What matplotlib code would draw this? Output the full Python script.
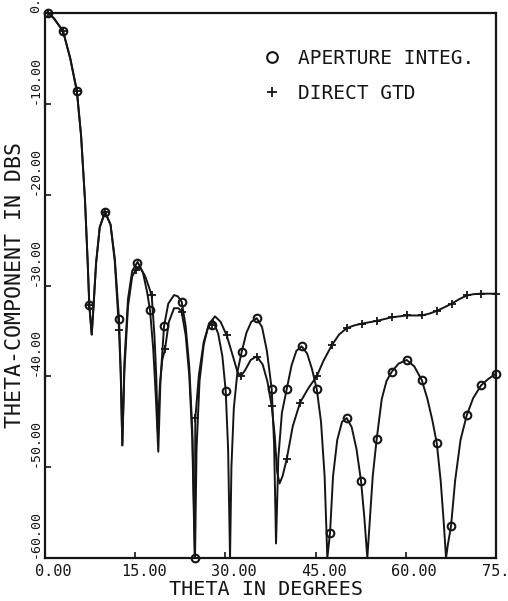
import matplotlib
matplotlib.use("Agg")
import matplotlib.pyplot as plt
from matplotlib.transforms import ScaledTranslation

# aperture integration curve (theta deg, dB)
theta_ap = [0.0, 0.55, 1.5, 3.0, 4.2, 5.3, 6.0, 6.65, 7.1, 7.37, 7.77, 8.03, 8.5, 9.1, 9.98,
            10.9, 11.6, 12.31, 12.6, 12.86, 13.2, 13.8, 14.5, 15.4, 16.3, 17.0, 17.46, 18.0,
            18.45, 18.84, 19.2, 19.79, 20.5, 21.46, 22.1, 22.73, 23.4, 24.0, 24.5, 24.95,
            25.2, 25.7, 26.4, 27.1, 27.9, 28.8, 29.5, 30.05, 30.45, 30.77, 31.0, 31.4, 32.0,
            32.71, 33.5, 34.3, 35.21, 36.1, 36.9, 37.7, 38.1, 38.42, 38.8, 39.4, 40.2, 41.0,
            41.8, 42.69, 43.6, 44.4, 45.19, 45.9, 46.5, 46.95, 47.4, 47.9, 48.6, 49.4, 50.18,
            51.0, 51.8, 52.55, 53.1, 53.6, 54.0, 54.5, 55.16, 56.0, 56.8, 57.66, 58.8, 60.15,
            61.4, 62.65, 63.6, 64.4, 65.14, 65.8, 66.3, 66.69, 67.0, 67.52, 68.2, 69.1, 70.13,
            71.2, 72.51, 73.7, 75.0]
db_ap = [0.0, 0.0, -0.6, -2.0, -5.0, -8.6, -13.5, -20.6, -27.5, -32.2, -35.4, -32.7, -27.5, -23.6, -21.9,
         -23.3, -27.0, -33.7, -39.5, -47.6, -38.5, -31.5, -28.4, -27.4, -28.6, -30.8, -32.7, -37.0,
         -42.5, -48.3, -40.5, -34.5, -32.0, -31.05, -31.2, -31.8, -34.5, -39.0, -46.0, -60.0,
         -48.0, -40.5, -36.5, -34.6, -33.8, -35.3, -37.8, -41.6, -48.0, -60.0, -50.0, -43.5, -39.5,
         -37.3, -35.2, -34.0, -33.6, -34.6, -37.2, -41.4, -47.5, -58.4, -49.0, -44.0, -41.4, -38.8,
         -37.2, -36.7, -37.5, -39.2, -41.4, -45.0, -51.0, -60.0, -57.2, -51.0, -47.0, -45.0, -44.6,
         -45.6, -48.0, -51.5, -55.5, -60.0, -56.0, -51.0, -46.9, -42.5, -40.5, -39.5, -38.6, -38.2,
         -38.9, -40.4, -42.5, -44.8, -47.3, -51.5, -56.0, -60.0, -58.5, -56.5, -51.5, -47.0, -44.3,
         -42.4, -41.0, -40.3, -39.7]

# direct GTD curve
theta_gtd = [0.0, 0.55, 1.5, 3.0, 4.2, 5.3, 6.0, 6.65, 7.1, 7.37, 7.77, 8.03, 8.5, 9.1, 9.98,
             10.9, 11.6, 12.31, 12.6, 12.86, 13.2, 13.8, 14.5, 15.08, 15.8, 16.6, 17.2, 17.74,
             18.2, 18.5, 18.75, 19.1, 19.5, 19.96, 20.6, 21.46, 22.2, 22.73, 23.4, 24.0, 24.5,
             24.9, 25.0, 25.6, 26.4, 27.3, 28.27, 29.2, 30.22, 31.3, 32.0, 32.55, 33.3, 34.2,
             35.21, 36.2, 37.0, 37.7, 38.2, 38.6, 39.0, 39.5, 40.2, 41.2, 42.41, 43.8, 45.19,
             46.3, 47.68, 48.9, 50.18, 51.4, 52.67, 55.16, 57.66, 60.15, 62.65, 63.9, 65.14,
             66.4, 67.63, 68.9, 70.13, 71.3, 72.51, 75.0]
db_gtd = [0.0, 0.0, -0.6, -2.0, -5.0, -8.6, -13.5, -20.6, -27.5, -32.2, -35.4, -32.7, -27.5, -23.6, -21.9,
          -23.3, -27.3, -34.9, -40.0, -47.6, -39.5, -32.3, -29.0, -28.3, -28.0, -28.9, -30.0, -31.1,
          -35.5, -40.0, -46.0, -41.0, -38.2, -37.0, -34.0, -32.5, -32.5, -32.9, -35.5, -40.0, -47.0,
          -60.0, -44.6, -39.8, -36.2, -34.2, -33.4, -34.0, -35.5, -37.9, -39.5, -40.0, -39.3, -38.2,
          -37.8, -38.7, -40.6, -43.3, -46.5, -50.5, -51.8, -51.0, -49.1, -45.5, -42.9, -41.3, -40.0,
          -38.3, -36.6, -35.4, -34.7, -34.4, -34.2, -33.9, -33.5, -33.3, -33.3, -33.1, -32.8,
          -32.4, -32.0, -31.5, -31.1, -30.95, -30.9, -30.9]

# sampled points (markers)
ap_mark_theta = [0.55, 3.0, 5.3, 7.37, 9.98, 12.31, 15.3, 17.46, 19.79, 22.73, 24.95, 27.72, 30.05,
                 32.71, 35.21, 37.7, 40.2, 42.69, 45.19, 47.4, 50.18, 52.55, 55.16, 57.66, 60.15,
                 62.65, 65.14, 67.52, 70.13, 72.51, 75.0]
ap_mark_db = [0.0, -2.0, -8.6, -32.2, -21.9, -33.7, -27.5, -32.7, -34.5, -31.8, -60.0, -34.3, -41.6,
              -37.3, -33.6, -41.4, -41.4, -36.7, -41.4, -57.2, -44.6, -51.5, -46.9, -39.5, -38.2,
              -40.4, -47.3, -56.5, -44.3, -41.0, -39.7]
gtd_mark_theta = [0.55, 3.0, 5.3, 7.37, 9.98, 12.31, 15.08, 17.74, 19.96, 22.73, 24.95, 27.72, 30.22,
                  32.55, 35.21, 37.7, 40.2, 42.41, 45.19, 47.68, 50.18, 52.67, 55.16, 57.66, 60.15,
                  62.65, 65.14, 67.63, 70.13, 72.51, 75.0]
gtd_mark_db = [0.0, -2.0, -8.6, -32.2, -21.9, -34.9, -28.3, -31.1, -37.0, -32.9, -44.6, -34.3, -35.5,
               -40.0, -37.9, -43.3, -49.1, -42.9, -40.0, -36.6, -34.7, -34.2, -33.9, -33.5, -33.3,
               -33.3, -32.8, -32.0, -31.1, -30.9, -30.9]

x_ticks = [0, 15, 30, 45, 60, 75]
x_ticklabels = ['0.00', '15.00', '30.00', '45.00', '60.00', '75.00']
y_ticks = [0, -10, -20, -30, -40, -50, -60]
y_ticklabels = ['0.00', '-10.00', '-20.00', '-30.00', '-40.00', '-50.00', '-60.00']

ink = '#151515'
mono = 'DejaVu Sans Mono'

fig = plt.figure(figsize=(5.08, 6.01), dpi=100)
ax = fig.add_axes([45 / 508, 1 - 558 / 601, 451 / 508, 545 / 601])

ax.plot(theta_ap, db_ap, color=ink, lw=1.4)
ax.plot(theta_gtd, db_gtd, color=ink, lw=1.4)
h_ap, = ax.plot(ap_mark_theta, ap_mark_db, ls='none', marker='o', ms=5.5, mfc='none',
                mec=ink, mew=1.5, clip_on=False, label='APERTURE INTEG.')
h_gtd, = ax.plot(gtd_mark_theta, gtd_mark_db, ls='none', marker='+', ms=5.5,
                 mec=ink, mew=1.3, clip_on=False, label='DIRECT GTD')

ax.set_xlim(0, 75)
ax.set_ylim(-60, 0)
for s in ax.spines.values():
    s.set_linewidth(1.6)
    s.set_color(ink)

ax.set_xticks(x_ticks)
ax.set_xticklabels(x_ticklabels, fontsize=11, family=mono, color=ink)
ax.set_yticks(y_ticks)
ax.set_yticklabels(y_ticklabels, fontsize=9.5, family=mono, color=ink)
ax.tick_params(axis='both', direction='in', length=4, width=1.2, color=ink)
ax.tick_params(axis='x', pad=4)
ax.tick_params(axis='y', pad=2)

shift = ScaledTranslation(6 / 72, 0, fig.dpi_scale_trans)
for lab in ax.get_xticklabels():
    lab.set_transform(lab.get_transform() + shift)
for lab in ax.get_yticklabels():
    lab.set_rotation(90)
    lab.set_rotation_mode('anchor')
    lab.set_ha('left')
    lab.set_va('bottom')

ax.set_xlabel('THETA IN DEGREES', fontsize=14.5, family=mono, color=ink)
ax.xaxis.set_label_coords(0.49, -0.041)
ax.set_ylabel('THETA-COMPONENT IN DBS', fontsize=15.5, family=mono, color=ink)
ax.yaxis.set_label_coords(-0.045, 0.5)

ax.legend(handles=[h_ap, h_gtd], loc='upper left', bbox_to_anchor=(266 / 508, 1 - 49 / 601),
          bbox_transform=fig.transFigure, frameon=False, prop={'family': mono, 'size': 14},
          handlelength=0.6, handletextpad=1.05, labelspacing=0.8, borderpad=0,
          borderaxespad=0, markerscale=1.4, labelcolor=ink)

fig.savefig('out.png', dpi=100, facecolor='white')
